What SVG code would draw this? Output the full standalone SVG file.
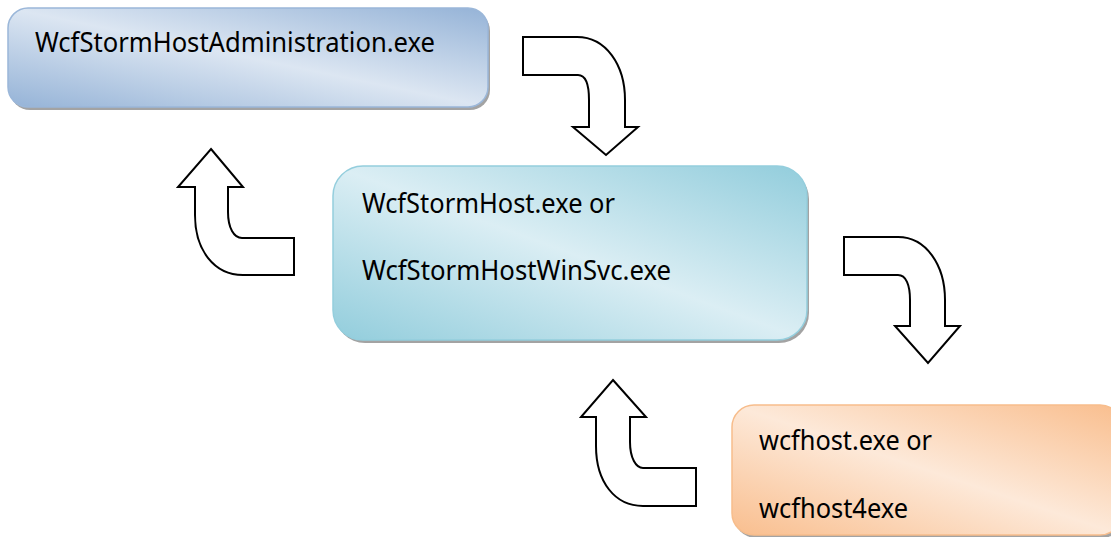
<svg xmlns="http://www.w3.org/2000/svg" width="1111" height="537" viewBox="0 0 1111 537">
<defs>
<linearGradient id="gBlue" x1="0" y1="1" x2="1" y2="0">
<stop offset="0" stop-color="#95b3d7"/><stop offset="0.5" stop-color="#dce6f2"/><stop offset="1" stop-color="#95b3d7"/>
</linearGradient>
<linearGradient id="gTeal" x1="0" y1="1" x2="1" y2="0">
<stop offset="0" stop-color="#92cddc"/><stop offset="0.5" stop-color="#dbeef4"/><stop offset="1" stop-color="#92cddc"/>
</linearGradient>
<linearGradient id="gOrange" x1="0" y1="1" x2="1" y2="0">
<stop offset="0" stop-color="#f9be8e"/><stop offset="0.5" stop-color="#fde9d9"/><stop offset="1" stop-color="#f9be8e"/>
</linearGradient>
</defs>
<style>
text{font-family:"Noto Sans","Open Sans",sans-serif;font-size:27px;fill:#000}
.shadow{fill:#8c8c8c;opacity:0.8}
.arrow{fill:#fff;stroke:#000;stroke-width:2;stroke-linejoin:miter}
</style>
<rect width="1111" height="537" fill="#fff"/>
<g id="node-admin">
<rect class="shadow" x="10" y="11" width="480" height="99" rx="20"/>
<rect x="8" y="8" width="480" height="99" rx="20" fill="url(#gBlue)" stroke="#9bb7d9" stroke-width="1.5"/>
<text x="35" y="52" textLength="400" lengthAdjust="spacingAndGlyphs">WcfStormHostAdministration.exe</text>
</g>
<g id="node-host">
<rect class="shadow" x="335" y="169" width="474" height="174" rx="30"/>
<rect x="333" y="166" width="474" height="174" rx="30" fill="url(#gTeal)" stroke="#94cedd" stroke-width="1.5"/>
<text x="362" y="213" textLength="253" lengthAdjust="spacingAndGlyphs">WcfStormHost.exe or</text>
<text x="362" y="280" textLength="309" lengthAdjust="spacingAndGlyphs">WcfStormHostWinSvc.exe</text>
</g>
<g id="node-wcfhost">
<rect class="shadow" x="734" y="408" width="390" height="130" rx="22"/>
<rect x="732" y="405" width="390" height="130" rx="22" fill="url(#gOrange)" stroke="#f7bd8c" stroke-width="1.5"/>
<text x="759" y="450" textLength="173" lengthAdjust="spacingAndGlyphs">wcfhost.exe or</text>
<text x="759" y="518" textLength="149" lengthAdjust="spacingAndGlyphs">wcfhost4exe</text>
</g>
<g id="connectors">
<path class="arrow" d="M523,37 L577,37 C606,37 625,65 625,100 L625,127 L638,127 L606,155 L573,127 L589,127 L589,100 C589,84 585,75 578,75 L523,75 Z"/>
<path class="arrow" d="M211,149 L243,187 L228,187 L228,212 C228,228 234,238 242,238 L294,238 L294,275 L243,275 C214,275 195,250 195,215 L195,187 L178,187 Z"/>
<path class="arrow" d="M844,237 L898,237 C926,237 945,265 945,300 L945,326 L960,326 L928,363 L895,326 L910,326 L910,300 C910,285 906,275 898,275 L844,275 Z"/>
<path class="arrow" d="M613,380 L646,417 L630,417 L630,442 C630,458 636,468 643,468 L696,468 L696,506 L643,506 C615,506 596,482 596,446 L596,417 L581,417 Z"/>
</g>
</svg>
